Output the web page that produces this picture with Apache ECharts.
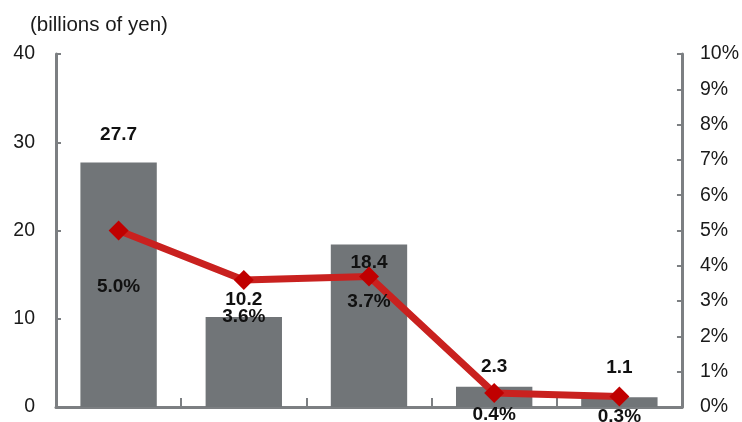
<!DOCTYPE html>
<html>
<head>
<meta charset="utf-8">
<script src="https://cdn.jsdelivr.net/npm/echarts@6/dist/echarts.min.js"></script>
<style>
  html, body { margin: 0; padding: 0; background: #fff; }
  #chart { width: 742px; height: 422px; }
</style>
</head>
<body>
<div id="chart"></div>
<script>
// Five segments: amount (billions of yen) and ratio (%)
const categories = ['A', 'B', 'C', 'D', 'E'];
const amounts = [27.7, 10.2, 18.4, 2.3, 1.1];
const ratios = [5.0, 3.6, 3.7, 0.4, 0.3];
const leftTicks = { min: 0, max: 40, interval: 10 };
const rightTicks = { min: 0, max: 10, interval: 1 };

// Vertical nudges for the value labels (px), one per category
const amountLabelShift = [-18, -8, 28, -10, -20];
const ratioLabelShift = [56, 37, 25, 22, 20];

const AXIS = '#7c7f82';
const FONT = 'Liberation Sans, Arial, sans-serif';

const chart = echarts.init(document.getElementById('chart'), null, { renderer: 'canvas' });

chart.setOption({
  animation: false,
  title: {
    text: '(billions of yen)',
    left: 25, top: 10,
    textStyle: { fontFamily: FONT, fontSize: 20.5, fontWeight: 'normal', color: '#1a1a1a' }
  },
  grid: { left: 56, right: 60, top: 54, bottom: 15 },
  xAxis: {
    type: 'category',
    data: categories,
    boundaryGap: true,
    axisLine: { lineStyle: { color: AXIS, width: 3 } },
    axisTick: { show: true, inside: true, length: 9, lineStyle: { color: AXIS, width: 2 } },
    axisLabel: { show: false }
  },
  yAxis: [
    {
      type: 'value',
      min: leftTicks.min, max: leftTicks.max, interval: leftTicks.interval,
      axisLine: { show: true, lineStyle: { color: AXIS, width: 3 } },
      axisTick: { show: true, inside: true, length: 5, lineStyle: { color: AXIS, width: 2 } },
      splitLine: { show: false },
      axisLabel: { margin: 21, fontFamily: FONT, fontSize: 19.5, color: '#1a1a1a' }
    },
    {
      type: 'value',
      min: rightTicks.min, max: rightTicks.max, interval: rightTicks.interval,
      position: 'right',
      axisLine: { show: true, lineStyle: { color: AXIS, width: 3 } },
      axisTick: { show: true, inside: true, length: 5, lineStyle: { color: AXIS, width: 2 } },
      splitLine: { show: false },
      axisLabel: { margin: 18, fontFamily: FONT, fontSize: 19.5, color: '#1a1a1a', formatter: '{value}%' }
    }
  ],
  series: [
    {
      type: 'bar',
      yAxisIndex: 0,
      barWidth: '61%',
      itemStyle: { color: '#717578' },
      data: amounts.map((v, i) => ({
        value: v,
        label: {
          show: true, position: 'top', distance: 0,
          offset: [0, amountLabelShift[i]],
          formatter: v.toFixed(1),
          fontFamily: FONT, fontSize: 19, fontWeight: 'bold', color: '#111'
        }
      }))
    },
    {
      type: 'line',
      yAxisIndex: 1,
      z: 3,
      symbol: 'diamond',
      symbolSize: 20,
      lineStyle: { color: '#c9211f', width: 7 },
      itemStyle: { color: '#c00000' },
      data: ratios.map((v, i) => ({
        value: v,
        label: {
          show: true, position: 'inside',
          offset: [0, ratioLabelShift[i]],
          formatter: v.toFixed(1) + '%',
          fontFamily: FONT, fontSize: 19, fontWeight: 'bold', color: '#111'
        }
      }))
    }
  ]
});
</script>
</body>
</html>
